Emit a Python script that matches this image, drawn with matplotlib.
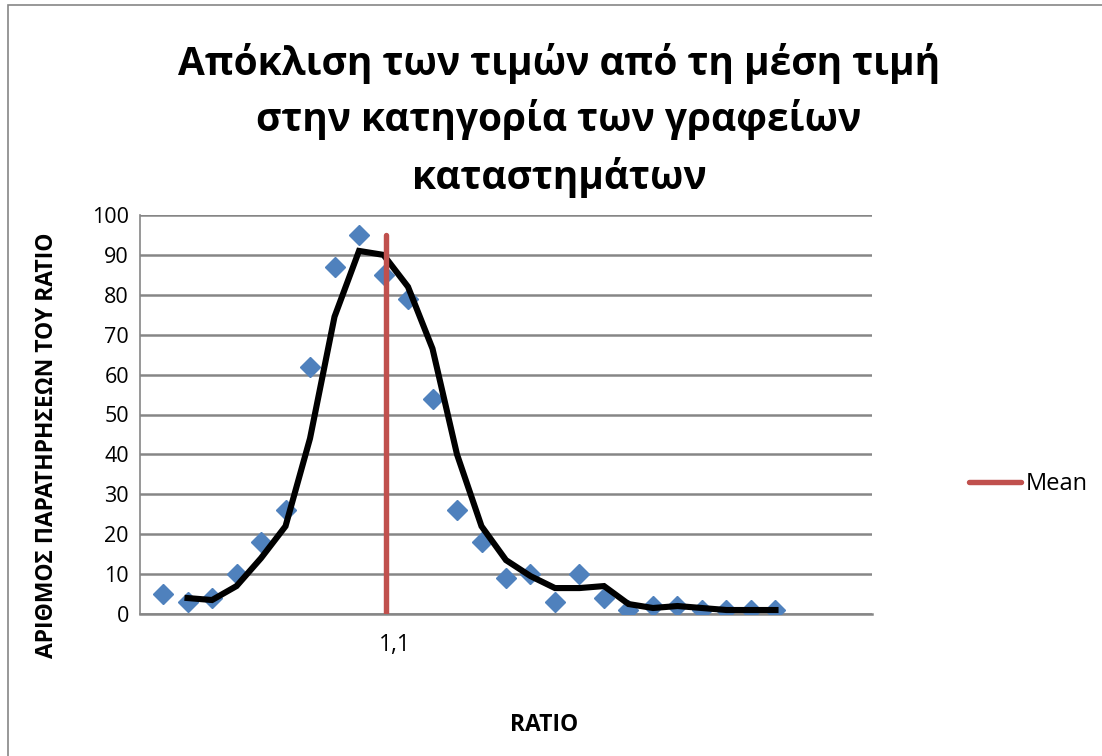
import matplotlib
matplotlib.use('Agg')
import matplotlib.pyplot as plt
from matplotlib.lines import Line2D
from matplotlib.patches import Rectangle

plt.rcParams['font.family'] = ['Open Sans', 'Noto Sans', 'DejaVu Sans']

counts = [5, 3, 4, 10, 18, 26, 62, 87, 95, 85, 79, 54, 26,
          18, 9, 10, 3, 10, 4, 1, 2, 2, 1, 1, 1, 1]
# 2-period moving average trendline (starts at the 2nd class)
trend = [4, 3.5, 7, 14, 22, 44, 74.5, 91, 90, 82, 66.5, 40, 22,
         13.5, 9.5, 6.5, 6.5, 7, 2.5, 1.5, 2, 1.5, 1, 1, 1]
mean_pos = 9.1
mean_top = 95
mean_label = '1,1'

title = 'Απόκλιση των τιμών από τη μέση τιμή\nστην κατηγορία των γραφείων\nκαταστημάτων'
ylabel = 'ΑΡΙΘΜΟΣ ΠΑΡΑΤΗΡΗΣΕΩΝ ΤΟΥ RATIO'
xlabel = 'RATIO'

fig = plt.figure(figsize=(11.02, 7.56), dpi=100)
# chart border
fig.patches.append(Rectangle((8 / 1102, -0.1), 1.2, 1 - 5 / 756 + 0.1,
                             transform=fig.transFigure, fill=False,
                             edgecolor='#868686', linewidth=1.2))

ax = fig.add_axes([140 / 1102, 142 / 756, 732 / 1102, 399 / 756])

xs = list(range(len(counts)))
ax.plot(xs, counts, linestyle='none', marker='D', markersize=10,
        color='#4F81BD', zorder=3)
ax.plot(xs[1:], trend, color='black', linewidth=4.4, zorder=4,
        solid_joinstyle='miter')
ax.plot([mean_pos, mean_pos], [0, mean_top], color='#C0504D',
        linewidth=3.9, solid_capstyle='round', zorder=5)

ax.set_xlim(-0.94, 28.94)
ax.set_ylim(0, 100)
ax.set_yticks(range(0, 101, 10))
ax.set_xticks([mean_pos + 0.37])
ax.set_xticklabels([mean_label])
ax.tick_params(axis='y', length=0, labelsize=15.5, pad=8)
ax.tick_params(axis='x', length=0, labelsize=16.5, pad=14)
ax.yaxis.grid(True, color='#868686', linewidth=1.8)
ax.set_axisbelow(True)
for s in ['top', 'right']:
    ax.spines[s].set_visible(False)
ax.spines['left'].set_color('#868686')
ax.spines['bottom'].set_color('#868686')
ax.spines['left'].set_linewidth(1.2)
ax.spines['bottom'].set_linewidth(1.8)

fig.text(559 / 1102, 1 - 120 / 756, title, ha='center', va='center',
         fontsize=28, fontweight='bold', linespacing=1.5)
fig.text(47 / 1102, 1 - 445 / 756, ylabel, rotation=90, ha='center',
         va='center', fontsize=16.5, fontweight='bold')
fig.text(544 / 1102, 1 - 725 / 756, xlabel, ha='center', va='center',
         fontsize=16.5, fontweight='bold')

handle = Line2D([], [], color='#C0504D', linewidth=3.9, solid_capstyle='round')
fig.legend([handle], ['Mean'], loc='center left', frameon=False,
           bbox_to_anchor=(950 / 1102, 1 - 484 / 756), fontsize=17,
           handlelength=2.2, handletextpad=0.2, borderpad=0.3)

fig.savefig('out.png', dpi=100)
